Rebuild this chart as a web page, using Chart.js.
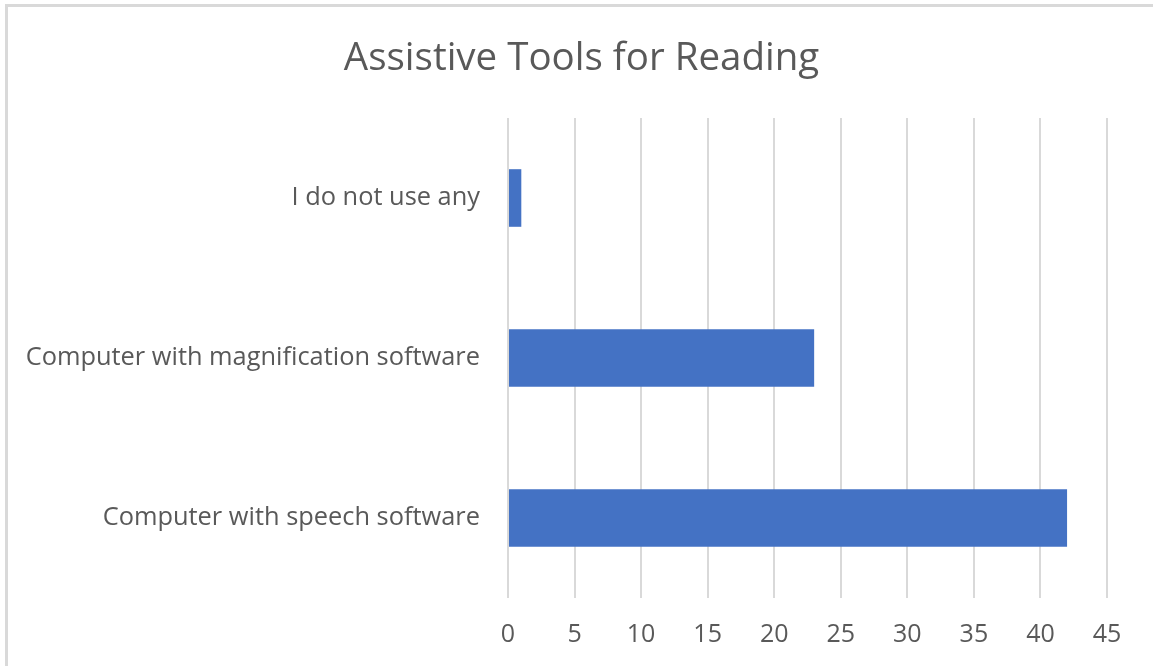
<!DOCTYPE html>
<html>
<head>
<meta charset="utf-8">
<script src="https://cdn.jsdelivr.net/npm/chart.js@4/dist/chart.umd.min.js"></script>
<style>
  html, body { margin: 0; padding: 0; background: #fff; }
  #wrap { position: relative; width: 1153px; height: 666px; }
</style>
</head>
<body>
<div id="wrap"><canvas id="c"></canvas></div>
<script>
const categories = ['I do not use any', 'Computer with magnification software', 'Computer with speech software'];
const values = [1, 23, 42];
const xMin = 0, xMax = 45, xStep = 5;
const titleText = 'Assistive Tools for Reading';

const frame = {
  id: 'frame',
  beforeDraw(chart) {
    const ctx = chart.ctx;
    ctx.save();
    ctx.fillStyle = '#ffffff';
    ctx.fillRect(0, 0, chart.width, chart.height);
    ctx.fillStyle = '#d9d9d9';
    ctx.fillRect(5, 4, chart.width - 5, 3);
    ctx.fillRect(5, 4, 3, chart.height - 4);
    ctx.restore();
  }
};

const titleShift = {
  id: 'titleShift',
  afterLayout(chart) {
    const tb = chart.titleBlock;
    if (tb) { tb.left += 56; tb.right = chart.chartArea.right; tb.width = tb.right - tb.left; }
  }
};

new Chart(document.getElementById('c'), {
  type: 'bar',
  data: {
    labels: categories,
    datasets: [{
      data: values,
      backgroundColor: '#4472C4',
      borderWidth: 0,
      categoryPercentage: 1,
      barPercentage: 0.36
    }]
  },
  options: {
    indexAxis: 'y',
    responsive: true,
    maintainAspectRatio: false,
    animation: false,
    layout: { padding: { left: 0, right: 46, top: 0, bottom: 0 } },
    plugins: {
      legend: { display: false },
      tooltip: { enabled: false },
      title: {
        display: true,
        text: titleText,
        color: '#595959',
        font: { family: 'Open Sans', size: 38.5, weight: 'normal' },
        padding: { top: 36, bottom: 35.8 }
      }
    },
    scales: {
      x: {
        min: xMin, max: xMax,
        ticks: { stepSize: xStep, color: '#595959', font: { family: 'Open Sans', size: 25 }, padding: 22 },
        grid: { color: '#d9d9d9', lineWidth: 2, drawTicks: false },
        border: { display: false },
        afterFit(scale) { scale.height = 68; }
      },
      y: {
        ticks: { color: '#595959', font: { family: 'Open Sans', size: 25.4 }, padding: 28 },
        grid: { display: false, drawTicks: false },
        border: { display: false },
        afterFit(scale) { scale.width = 508; }
      }
    }
  },
  plugins: [frame, titleShift]
});
</script>
</body>
</html>
